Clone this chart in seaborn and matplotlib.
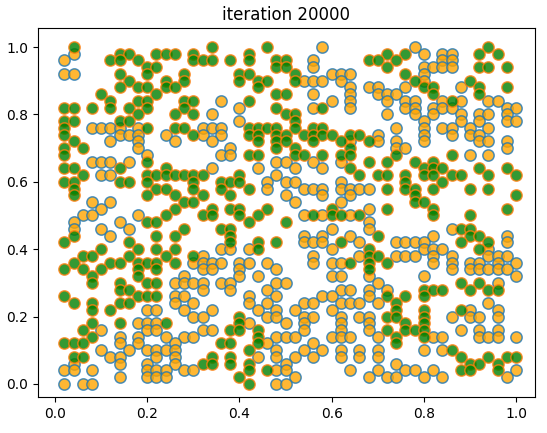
import matplotlib
matplotlib.use('Agg')
import matplotlib.pyplot as plt
import seaborn as sns
import pandas as pd

# agent positions on a 0.02 grid:
# row index r -> y = 1 - 0.02*r, column index c -> x = 0.02*c
STEP = 0.02

green_cols = [
    [2, 17, 23, 47],
    [7, 8, 11, 12, 13, 15, 21, 36, 38, 46, 48],
    [6, 7, 9, 15, 16, 17, 19, 21, 24, 25, 34, 35, 37],
    [10, 11, 24, 25, 36, 46, 47, 49],
    [7, 10, 14, 20, 21, 26, 38],
    [8, 12, 14, 20, 22, 23, 26, 39, 45],
    [7, 9, 10, 12, 13, 22, 40, 41, 46, 49],
    [5, 11, 24, 25, 41, 46],
    [6, 9, 10, 14, 15, 21, 43],
    [1, 2, 4, 6, 8, 10, 14, 24, 29],
    [9, 13, 15, 25, 26],
    [1, 2, 7, 8, 26],
    [1, 10, 13, 14, 21, 22, 23, 24, 26, 28, 29],
    [1, 15, 21, 22, 24, 25, 27, 28, 29, 30, 32, 33],
    [2, 22, 24, 25, 28, 31, 34],
    [1, 3, 24, 26, 32],
    [1, 21, 22, 26, 27, 29, 31, 32, 37, 43],
    [10, 34, 36, 39, 41],
    [1, 2, 7, 12, 32, 40, 41, 42, 46, 49],
    [3, 10, 11, 12, 13, 14, 15, 16, 20, 33, 35, 36, 38, 40, 41, 43, 44, 47, 50],
    [1, 2, 7, 8, 10, 15, 18, 19, 20, 38, 42],
    [2, 11, 12, 15, 18, 21, 36, 38, 39, 41, 45, 47],
    [2, 10, 13, 16, 19, 39, 50],
    [14, 15, 39, 40],
    [13, 17, 19, 20, 23, 30, 36, 41, 49],
    [12, 16, 17, 20, 22, 28, 30, 31, 33, 41, 45],
    [10, 11, 21, 25],
    [14, 18, 19, 44, 45],
    [2, 11, 13, 19, 35, 45, 46],
    [1, 8, 19, 22, 24, 31, 44, 47],
    [5, 9, 11, 13, 22, 34, 46],
    [3, 4, 8, 12, 15, 34, 35],
    [2, 6, 7, 9, 10, 11, 13, 32, 34, 36],
    [1, 3, 5, 9, 11, 34],
    [4, 9],
    [4, 7, 10, 11, 44, 46],
    [7, 8, 40, 41, 42, 45, 47, 48],
    [1, 9, 10, 11, 36, 38, 40],
    [2, 4, 7, 8, 37],
    [4, 6, 37, 40, 44],
    [20, 36, 37, 40],
    [4, 7, 12, 20, 38, 40],
    [3, 19, 20, 22, 36, 38, 39, 40],
    [4, 22, 37, 40],
    [1, 2, 3, 18, 19, 22, 37],
    [21, 43],
    [2, 3, 17, 19, 44, 47, 49, 50],
    [16, 17, 19, 21, 45, 46, 48],
    [21, 23, 44, 45, 48],
    [20],
    [21],
]

orange_cols = [
    [29, 39],
    [2, 40, 42, 43],
    [1, 28, 42, 43],
    [28, 40, 41, 42, 43],
    [1, 2, 30, 31, 32, 40],
    [27, 28, 29, 31, 40],
    [32, 34, 35, 38, 44],
    [28, 32, 35, 36, 37],
    [18, 30, 32, 36, 38, 39, 42, 44, 47, 48],
    [20, 28, 32, 38, 39, 41, 42, 43, 49, 50],
    [17, 36, 39, 41, 44, 46, 47, 49],
    [20, 40, 44, 46, 49, 50],
    [4, 5, 6, 7, 9, 16, 17, 18, 37, 40, 42, 43, 45, 47],
    [7, 8, 9, 12, 16, 18, 35, 40, 43, 45, 46],
    [6, 9, 13, 17, 32, 35, 37, 40, 46, 47, 49],
    [9, 19, 37, 38, 49],
    [10, 18, 19, 45, 47],
    [4, 5, 6, 8, 24, 25, 28, 31],
    [17, 22, 26, 29],
    [5, 6, 24],
    [23, 25, 26, 31],
    [23, 27, 28, 29, 31, 32, 33, 34],
    [25, 29, 32],
    [4, 6, 26, 31],
    [5, 34],
    [3, 4, 9, 27, 29, 32],
    [2, 7, 34],
    [2, 5, 8, 30, 34, 43],
    [6, 27, 29, 32, 41, 49],
    [27, 28, 29, 33, 37, 38, 39, 40, 49],
    [18, 19, 21, 30, 40, 41, 42, 47],
    [16, 28, 33, 37, 38, 39, 41, 43, 47, 48, 49],
    [15, 16, 17, 18, 20, 21, 23, 28, 30, 31, 41, 43, 45, 46, 48, 50],
    [16, 17, 20, 24, 43, 45, 46, 47, 48, 49],
    [14, 20, 22, 30, 31, 34, 40, 50],
    [13, 14, 15, 16, 18, 19, 24, 25, 35, 48],
    [16, 19, 23, 31, 32, 34, 36],
    [13, 14, 21, 24, 29, 30, 34],
    [13, 15, 21, 23, 27, 28, 31, 32, 33, 35, 47],
    [10, 11, 14, 17, 22, 24, 26, 30, 45, 48],
    [15, 16, 23, 24, 27, 28, 31, 33, 34, 43, 45, 46, 48],
    [9, 10, 11, 21, 25, 27, 31, 34],
    [5, 10, 11, 16, 17, 27, 31, 34, 44, 46, 48],
    [7, 9, 12, 14, 15, 24, 25, 26, 30, 31, 32, 35, 41, 42, 46, 47, 48, 50],
    [7, 9, 13, 23, 28],
    [5, 8, 10, 11, 12, 13, 24, 27, 29, 31, 33, 35, 40, 42],
    [6, 7, 11, 13, 22, 24, 26, 28, 31, 33, 35],
    [2, 7, 10, 13, 25, 37],
    [1, 2, 4, 10, 11, 12, 14, 15, 24, 25, 32, 35, 38, 39, 41, 50],
    [7, 10, 11, 12, 26, 34, 36, 37, 40, 42, 49],
    [1, 3, 4, 24, 25],
]


def to_frame(rows):
    pts = [(c * STEP, 1 - r * STEP) for r, cols in enumerate(rows) for c in cols]
    return pd.DataFrame(pts, columns=['x', 'y'])


orange_df = to_frame(orange_cols)
green_df = to_frame(green_cols)

fig = plt.figure(figsize=(5.47, 4.33), dpi=100)
ax = fig.add_axes([0.0695, 0.083, 0.9085, 0.852])

sns.scatterplot(data=orange_df, x='x', y='y', ax=ax, color='orange',
                edgecolor='C0', s=66, alpha=0.8, linewidth=1.1)
sns.scatterplot(data=green_df, x='x', y='y', ax=ax, color='green',
                edgecolor='C1', s=66, alpha=0.8, linewidth=1.1)

ax.set_xlim(-0.037, 1.041)
ax.set_ylim(-0.039, 1.056)
ax.set_xlabel('')
ax.set_ylabel('')
ax.set_title('iteration 20000')

fig.savefig('out.png', dpi=100)
